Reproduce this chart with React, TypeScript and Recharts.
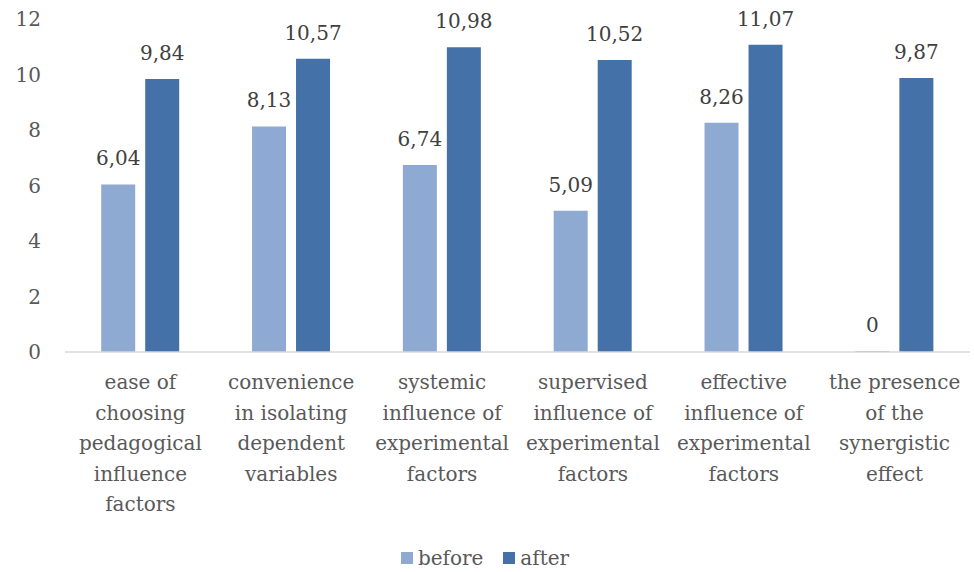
import { Bar, BarChart, LabelList, Legend, XAxis, YAxis } from "recharts";

document.body.style.margin = "0";

const categories = [
  "ease of\nchoosing\npedagogical\ninfluence\nfactors",
  "convenience\nin isolating\ndependent\nvariables",
  "systemic\ninfluence of\nexperimental\nfactors",
  "supervised\ninfluence of\nexperimental\nfactors",
  "effective\ninfluence of\nexperimental\nfactors",
  "the presence\nof the\nsynergistic\neffect",
];
const before = [6.04, 8.13, 6.74, 5.09, 8.26, 0];
const after = [9.84, 10.57, 10.98, 10.52, 11.07, 9.87];
const yTicks = [0, 2, 4, 6, 8, 10, 12];

const data = categories.map((name, i) => ({ name, before: before[i], after: after[i] }));

const FONT = "'DejaVu Serif', serif";
const TEXT = "#595959";
const FS = 20;

const fmt = (v: number) => (v === 0 ? "0" : v.toFixed(2).replace(".", ","));

function CategoryTick({ x, y, payload }: any) {
  const lines = String(payload.value).split("\n");
  return (
    <text x={x} y={y} textAnchor="middle" fill={TEXT} fontSize={FS} fontFamily={FONT}>
      {lines.map((l, i) => (
        <tspan key={i} x={x} dy={i === 0 ? 29 : 30.5}>
          {l}
        </tspan>
      ))}
    </text>
  );
}

function ValueLabel({ x, y, width, value }: any) {
  return (
    <text x={x + width / 2} y={y - 19} textAnchor="middle" fill="#404040" fontSize={FS} fontFamily={FONT}>
      {fmt(Number(value))}
    </text>
  );
}

function LegendBox() {
  const items = [
    { label: "before", color: "#8FAAD2" },
    { label: "after", color: "#4472A8" },
  ];
  return (
    <div style={{ display: "flex", justifyContent: "center", gap: 20, fontFamily: FONT, fontSize: FS, color: TEXT }}>
      {items.map((it) => (
        <span key={it.label} style={{ display: "flex", alignItems: "center", gap: 5 }}>
          <span style={{ width: 12, height: 12, background: it.color, display: "inline-block" }} />
          {it.label}
        </span>
      ))}
    </div>
  );
}

export default function App() {
  return (
    <BarChart
      width={974}
      height={572}
      data={data}
      margin={{ top: 19, right: 4, left: 0, bottom: 0 }}
      barCategoryGap="24%"
      barGap={10}
    >
      <XAxis
        dataKey="name"
        tick={<CategoryTick />}
        tickLine={false}
        axisLine={{ stroke: "#D9D9D9", strokeWidth: 1.5 }}
        interval={0}
        height={194}
      />
      <YAxis
        domain={[0, 12]}
        ticks={yTicks}
        axisLine={false}
        tickLine={false}
        tickSize={0}
        tickMargin={24}
        width={65}
        tick={{ fill: TEXT, fontSize: FS, fontFamily: FONT }}
      />
      <Legend verticalAlign="bottom" height={26} content={<LegendBox />} />
      <Bar
        dataKey="before"
        fill="#8FAAD2"
        isAnimationActive={false}
        minPointSize={(v: number) => (v === 0 ? 1 : 0)}
      >
        <LabelList dataKey="before" content={<ValueLabel />} />
      </Bar>
      <Bar dataKey="after" fill="#4472A8" isAnimationActive={false}>
        <LabelList dataKey="after" content={<ValueLabel />} />
      </Bar>
    </BarChart>
  );
}
